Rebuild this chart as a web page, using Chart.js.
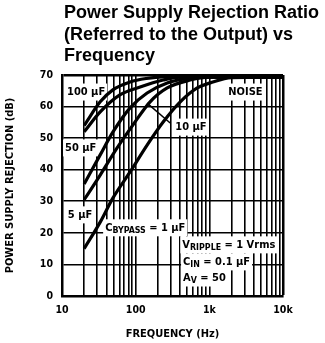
<!DOCTYPE html>
<html>
<head>
<meta charset="utf-8">
<script src="https://cdn.jsdelivr.net/npm/chart.js@4"></script>
<style>
  html, body { margin: 0; padding: 0; background: #fff; }
  #wrap { position: relative; width: 325px; height: 343px; }
  #c { position: absolute; left: 0; top: 0; }
  #title {
    position: absolute; left: 64px; top: 2px;
    font: bold 18px 'Liberation Sans', Arial, sans-serif;
    line-height: 21.5px; color: #000; white-space: nowrap;
  }
</style>
</head>
<body>
<div id="wrap">
  <canvas id="c" width="325" height="343"></canvas>
  <div id="title">Power Supply Rejection Ratio<br>(Referred to the Output) vs<br>Frequency</div>
</div>
<script>
const FONT = "'DejaVu Sans Condensed', 'DejaVu Sans', sans-serif"

// grid / tick values
const FREQ_TICKS = [10, 20, 30, 40, 50, 60, 70, 80, 90,
  100, 200, 300, 400, 500, 600, 700, 800, 900,
  1000, 2000, 3000, 4000, 5000, 6000, 7000, 8000, 9000, 10000]
const X_LABEL_VALUES = [10, 100, 1000, 10000]
const X_LABELS = ['10', '100', '1k', '10k']

// curves: frequency (Hz) and PSRR (dB)
const F_100UF = [20, 33, 49, 84, 140, 236, 10000]
const DB_100UF = [54, 61.5, 65.3, 67.8, 68.9, 69.4, 69.4]

const F_50UF = [20, 33, 61, 115, 236, 400, 10000]
const DB_50UF = [52, 58.3, 63.7, 66.2, 68.4, 69.3, 69.3]

const F_10UF = [20, 33, 49, 84, 143, 268, 550, 900, 10000]
const DB_10UF = [35.5, 44.7, 51.9, 59.6, 64.3, 67.5, 69, 69.4, 69.4]

const F_5UF = [20, 33, 56, 92, 157, 268, 550, 1000, 10000]
const DB_5UF = [30.5, 38.3, 46.9, 54.2, 61.5, 65.9, 68.4, 69.3, 69.3]

const F_1UF = [20, 33, 49, 84, 143, 236, 403, 685, 1030, 2000, 10000]
const DB_1UF = [15, 23.4, 31, 39.3, 47.8, 55.1, 61.5, 65.9, 67.5, 69.2, 69.3]

function curve(label, freqs, dbs) {
  return {
    label,
    data: freqs.map((f, i) => ({ x: f, y: dbs[i] })),
    borderColor: '#000',
    borderWidth: 3.2,
    pointRadius: 0,
    fill: false,
    cubicInterpolationMode: 'monotone',
  }
}

// text labels on the plot, placed in data units
const NOTES = [
  { x: 11.7, y: 64.6, parts: [['100 µF']] },
  { x: 11, y: 46.9, parts: [['50 µF']] },
  { x: 12, y: 25.7, parts: [['5 µF']] },
  { x: 345, y: 53.5, parts: [['10 µF']] },
  { x: 1810, y: 64.6, parts: [['NOISE']] },
  { x: 38.5, y: 21.6, parts: [['C'], ['BYPASS', true], [' = 1 µF']] },
  { x: 430, y: 16.2, parts: [['V'], ['RIPPLE', true], [' = 1 Vrms']] },
  { x: 440, y: 10.8, parts: [['C'], ['IN', true], [' = 0.1 µF']] },
  { x: 440, y: 5.7, parts: [['A'], ['V', true], [' = 50']] },
]
const LEADER = { from: [143, 61.1], to: [294, 54.8] }

const notesPlugin = {
  id: 'notes',
  beforeDatasetsDraw(chart) {
    const { ctx, scales: { x, y } } = chart
    const size = 11
    const main = `bold ${size}px ${FONT}`
    const sub = `bold ${size * 0.8}px ${FONT}`
    ctx.save()
    ctx.textBaseline = 'middle'
    NOTES.forEach(n => {
      const px = x.getPixelForValue(n.x)
      const py = y.getPixelForValue(n.y)
      let w = 0
      n.parts.forEach(([t, s]) => { ctx.font = s ? sub : main; w += ctx.measureText(t).width })
      ctx.fillStyle = '#fff'
      ctx.fillRect(px - 2, py - 8.5, w + 4, 17)
      ctx.fillStyle = '#000'
      let cx = px
      n.parts.forEach(([t, s]) => {
        ctx.font = s ? sub : main
        ctx.fillText(t, cx, s ? py + 3 : py)
        cx += ctx.measureText(t).width
      })
    })
    ctx.strokeStyle = '#000'
    ctx.lineWidth = 1.5
    ctx.beginPath()
    ctx.moveTo(x.getPixelForValue(LEADER.from[0]), y.getPixelForValue(LEADER.from[1]))
    ctx.lineTo(x.getPixelForValue(LEADER.to[0]), y.getPixelForValue(LEADER.to[1]))
    ctx.stroke()
    ctx.restore()
  },
}

Chart.defaults.font.family = FONT
Chart.defaults.color = '#000'

new Chart(document.getElementById('c'), {
  type: 'line',
  data: {
    datasets: [
      curve('100 µF', F_100UF, DB_100UF),
      curve('50 µF', F_50UF, DB_50UF),
      curve('10 µF', F_10UF, DB_10UF),
      curve('5 µF', F_5UF, DB_5UF),
      curve('1 µF', F_1UF, DB_1UF),
    ],
  },
  options: {
    responsive: false,
    animation: false,
    devicePixelRatio: 1,
    layout: { padding: { left: 0, top: 75, right: 42, bottom: 0 } },
    plugins: { legend: { display: false }, tooltip: { enabled: false } },
    scales: {
      x: {
        type: 'logarithmic',
        min: 10,
        max: 10000,
        afterFit: s => { s.height = 47 },
        afterBuildTicks: s => { s.ticks = FREQ_TICKS.map(v => ({ value: v })) },
        grid: {
          color: '#000',
          lineWidth: c => (c.tick && c.tick.value === 10000 ? 2.5 : 1.6),
          drawTicks: false,
        },
        border: { color: '#000', width: 2.5 },
        ticks: {
          autoSkip: false,
          maxRotation: 0,
          padding: 8,
          font: { size: 10.5, weight: 'bold' },
          callback: v => {
            const i = X_LABEL_VALUES.indexOf(v)
            return i >= 0 ? X_LABELS[i] : ''
          },
        },
        title: {
          display: true,
          text: 'FREQUENCY (Hz)',
          font: { size: 11, weight: 'bold' },
          padding: { top: 0, bottom: 2 },
        },
      },
      y: {
        min: 0,
        max: 70,
        afterFit: s => { s.width = 62 },
        grid: {
          color: '#000',
          lineWidth: c => (c.tick && c.tick.value === 70 ? 2.5 : 1.6),
          drawTicks: false,
        },
        border: { color: '#000', width: 2.5 },
        ticks: {
          stepSize: 10,
          padding: 9,
          font: { size: 10.5, weight: 'bold' },
        },
        title: {
          display: true,
          text: 'POWER SUPPLY REJECTION (dB)',
          font: { size: 11, weight: 'bold' },
          padding: { top: 4, bottom: 0 },
        },
      },
    },
  },
  plugins: [notesPlugin],
})
</script>
</body>
</html>
